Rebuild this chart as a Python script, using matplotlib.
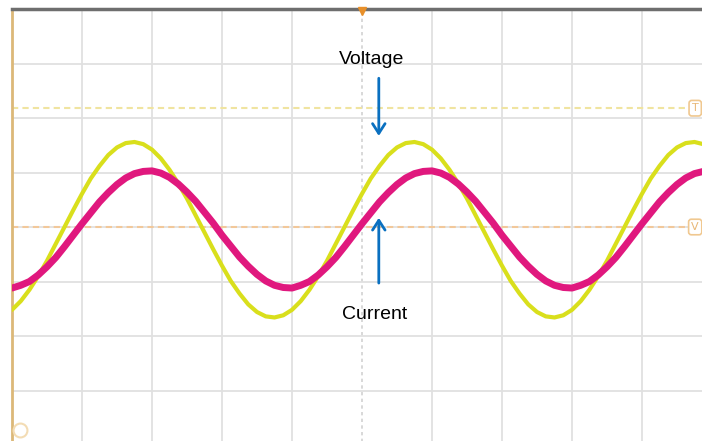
import numpy as np
import matplotlib.pyplot as plt

# Data, in divisions (10 x 8 grid, centre = 0)
t_div = np.arange(0, 10.001, 0.125)
voltage = [
    -1.52, -1.36, -1.15, -0.90, -0.62, -0.31, 0.00, 0.31,
    0.61, 0.89, 1.12, 1.32, 1.46, 1.54, 1.56, 1.52,
    1.42, 1.26, 1.05, 0.80, 0.52, 0.21, -0.10, -0.41,
    -0.71, -0.99, -1.22, -1.42, -1.56, -1.64, -1.66, -1.62,
    -1.52, -1.36, -1.15, -0.90, -0.62, -0.31, 0.00, 0.31,
    0.61, 0.89, 1.12, 1.32, 1.46, 1.54, 1.56, 1.52,
    1.42, 1.26, 1.05, 0.80, 0.52, 0.21, -0.10, -0.41,
    -0.71, -0.99, -1.22, -1.42, -1.56, -1.64, -1.66, -1.62,
    -1.52, -1.36, -1.15, -0.90, -0.62, -0.31, 0.00, 0.31,
    0.61, 0.89, 1.12, 1.32, 1.46, 1.54, 1.56, 1.52,
    1.42]
current = [
    -1.12, -1.07, -1.00, -0.88, -0.73, -0.56, -0.36, -0.15,
    0.06, 0.26, 0.46, 0.63, 0.78, 0.90, 0.98, 1.02,
    1.03, 0.99, 0.91, 0.79, 0.64, 0.47, 0.27, 0.07,
    -0.15, -0.35, -0.55, -0.72, -0.87, -0.99, -1.07, -1.11,
    -1.12, -1.07, -1.00, -0.88, -0.73, -0.56, -0.36, -0.15,
    0.06, 0.26, 0.46, 0.63, 0.78, 0.90, 0.98, 1.02,
    1.03, 0.99, 0.91, 0.79, 0.64, 0.47, 0.27, 0.07,
    -0.15, -0.35, -0.55, -0.72, -0.87, -0.99, -1.07, -1.11,
    -1.12, -1.07, -1.00, -0.88, -0.73, -0.56, -0.36, -0.15,
    0.06, 0.26, 0.46, 0.63, 0.78, 0.90, 0.98, 1.02,
    1.03]
trig_level = 2.18
ref_level = 0.0
labels = ['Voltage', 'Current']

# Figure / axes (screen grid runs past the right and bottom edges)
W, H = 702, 441
fig = plt.figure(figsize=[W / 100, H / 100], dpi=100)
ax = fig.add_axes([12 / W, 1 - 9 / H - 436 / H, 700 / W, 436 / H])
ax.set_xlim(0, 10)
ax.set_ylim(-4, 4)
ax.set_xticks([])
ax.set_yticks([])
for s in ['right', 'bottom']:
    ax.spines[s].set_visible(False)
ax.spines['top'].set_color('#6e6e6e')
ax.spines['top'].set_linewidth(2.5)
ax.spines['left'].set_color('#dcb878')
ax.spines['left'].set_linewidth(2)

# Grid
for gx in range(1, 10):
    if gx == 5:
        ax.axvline(gx, color='#d2d2d2', lw=1.2, ls=(0, (2, 2)), zorder=1)
    else:
        ax.axvline(gx, color='#e0e0e0', lw=1.3, zorder=1)
for gy in range(-3, 4):
    ax.axhline(gy, color='#e0e0e0', lw=1.3, zorder=1)

# Trigger / reference levels
ax.axhline(trig_level, color='#f0e4a0', lw=1.5, ls=(0, (3, 2)), zorder=2)
ax.axhline(ref_level, color='#f2c89a', lw=1.5, ls=(0, (3, 2)), zorder=2)
for lev, ch in [(trig_level, 'T'), (ref_level, 'V')]:
    ax.text(9.76, lev, ch, fontsize=8, color='#e8b878', ha='center',
            va='center', zorder=6,
            bbox=dict(boxstyle='round,pad=0.25', fc='white',
                      ec='#f0c890', lw=1.2))
ax.plot([5], [3.97], marker='v', color='#e8902a', ms=6, clip_on=False,
        zorder=6)
ax.plot([0.11], [-3.72], marker='o', mfc='none', mec='#f3dcb4', ms=10,
        mew=1.5, zorder=6)

# Traces
ax.plot(t_div, voltage, color='#d9df1c', lw=3, zorder=4,
        solid_capstyle='round')
ax.plot(t_div, current, color='#e0187e', lw=5, zorder=5,
        solid_capstyle='round')

# Annotations
blue = '#0a70c0'
arrow = dict(arrowstyle='->,head_length=0.7,head_width=0.45',
             color=blue, lw=2)
ax.annotate('', xy=(5.24, 1.62), xytext=(5.24, 2.78), arrowprops=arrow,
            zorder=7)
ax.text(5.13, 3.08, labels[0], fontsize=14, family='Liberation Sans',
        ha='center', va='center', zorder=7)
ax.annotate('', xy=(5.24, 0.22), xytext=(5.24, -1.08), arrowprops=arrow,
            zorder=7)
ax.text(5.18, -1.6, labels[1], fontsize=14, family='Liberation Sans',
        ha='center', va='center', zorder=7)

plt.savefig('out.png', dpi=100)
plt.close(fig)
